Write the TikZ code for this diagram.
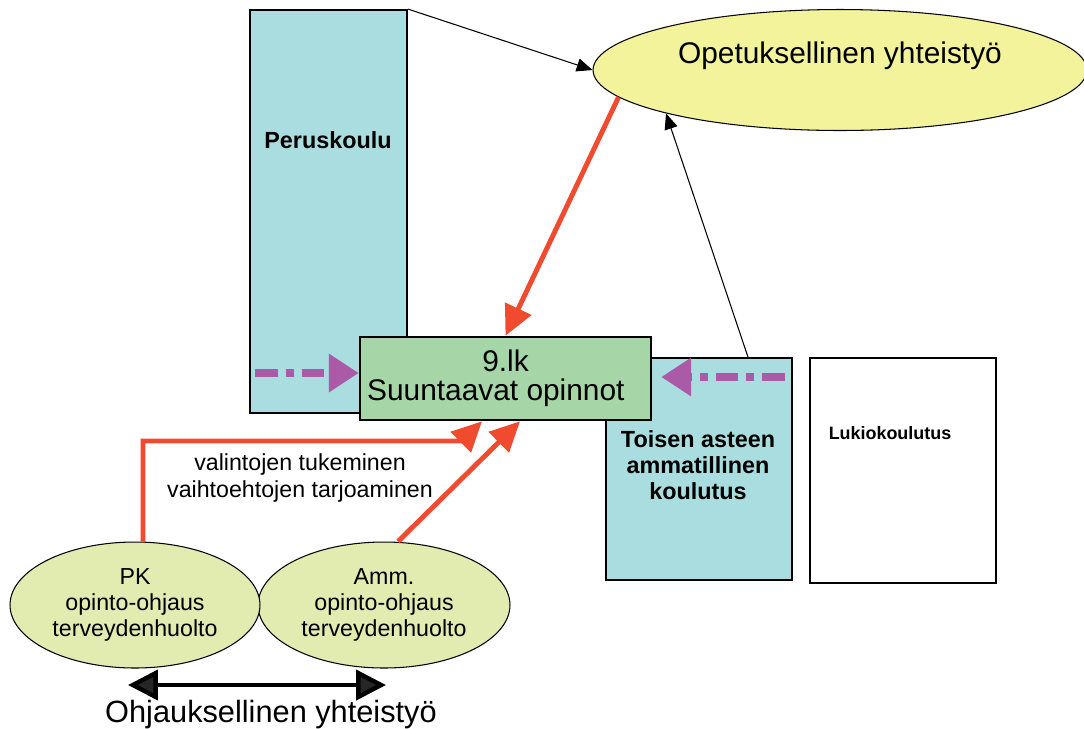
\documentclass[tikz,border=0pt]{standalone}
\usepackage{fontspec}
\setmainfont{Liberation Sans}
\usepackage{xcolor}
\usetikzlibrary{arrows.meta,shapes.geometric,positioning}
\definecolor{koulublue}{RGB}{170,221,224}
\definecolor{lkgreen}{RGB}{166,213,168}
\definecolor{opetyellow}{RGB}{243,243,155}
\definecolor{ohjgreen}{RGB}{226,235,176}
\definecolor{arrred}{RGB}{240,74,47}
\definecolor{arrpurple}{RGB}{170,90,166}

\begin{document}
\begin{tikzpicture}[x=0.02cm,y=-0.02cm,
  koulu/.style={draw,line width=1.1pt,inner sep=0pt},
  oval/.style={ellipse,draw,line width=0.6pt,inner sep=0pt},
  iso/.style={font=\fontsize{17pt}{16.5pt}\selectfont},
  pieni/.style={font=\fontsize{13.2pt}{15pt}\selectfont},
  lihava/.style={font=\bfseries\fontsize{13.3pt}{15pt}\selectfont},
  punainen/.style={draw=arrred,line width=2.8pt,-{Triangle[length=17pt,width=16pt]}},
  violetti/.style={draw=arrpurple,line width=4pt,dash pattern=on 13pt off 4.5pt on 4.5pt off 4.5pt,-{Triangle[length=17pt,width=21pt]}},
  ohut/.style={draw,line width=0.6pt,-{Triangle[length=9pt,width=7.5pt]}},
  musta/.style={draw,line width=2.5pt,{Triangle[length=17pt,width=17pt,fill=black!85]}-{Triangle[length=17pt,width=17pt,fill=black!85]}}]
\useasboundingbox (0,0) rectangle (1084,728);
\clip (0,0) rectangle (1084,728);
\node[koulu,fill=koulublue,minimum width=3.14cm,minimum height=8.06cm] (perus) at (328.5,211.5) {};
\node[lihava,anchor=base] (perustext) at (328,148) {Peruskoulu};
\node[oval,fill=opetyellow,minimum width=9.88cm,minimum height=2.42cm] (opet) at (840,70) {};
\node[iso,anchor=base] (opettext) at (840,63) {Opetuksellinen yhteistyö};
\node[koulu,fill=koulublue,minimum width=3.72cm,minimum height=4.44cm] (toisen) at (699,469) {};
\node[lihava,align=center] (toisentext) at (698,465) {Toisen asteen\\ammatillinen\\koulutus};
\node[koulu,line width=0.9pt,fill=white,minimum width=3.72cm,minimum height=4.5cm] (lukio) at (903,470.5) {};
\node[font=\bfseries\fontsize{10.2pt}{12pt}\selectfont,anchor=base] (lukiotext) at (890,439) {Lukiokoulutus};
\node[koulu,line width=1.5pt,fill=lkgreen,minimum width=5.82cm,minimum height=1.66cm,align=center,iso] (lk) at (505.5,378.5) {9.lk\\Suuntaavat opinnot\hspace*{11pt}};
\node[oval,fill=ohjgreen,minimum width=5.04cm,minimum height=2.52cm,align=center,pieni] (amm) at (384,605) {Amm.\\opinto-ohjaus\\terveydenhuolto};
\node[oval,fill=ohjgreen,minimum width=5cm,minimum height=2.52cm,align=center,pieni] (pk) at (135,605) {PK\\opinto-ohjaus\\terveydenhuolto};
\node[pieni,align=center] (tukitext) at (300,478) {valintojen tukeminen\\vaihtoehtojen tarjoaminen};
\node[iso,font=\fontsize{17.5pt}{16pt}\selectfont,anchor=base] (ohjtext) at (271,722) {Ohjauksellinen yhteistyö};
\draw[ohut] (perus.north east) -- (opet.west);
\draw[ohut] ([xshift=0.98cm]toisen.north) -- (opet.194);
\draw[punainen] (opet.187) -- (lk.north);
\coordinate (pkturn) at (462,441);
\draw[punainen] ([xshift=0.16cm]pk.north) |- (pkturn) -- ([xshift=-0.47cm]lk.south);
\draw[punainen] ([xshift=0.28cm]amm.north) -- ([xshift=0.29cm]lk.south);
\coordinate (violstart) at (255,373);
\draw[violetti] (violstart) -- (lk.west |- violstart);
\coordinate (violstart2) at (785,377);
\draw[violetti] (violstart2) -- ([xshift=0.18cm]lk.east |- violstart2);
\coordinate (ohjl) at (128,685);
\coordinate (ohjr) at (386,685);
\draw[musta] (ohjl) -- (ohjr);
\end{tikzpicture}
\end{document}
